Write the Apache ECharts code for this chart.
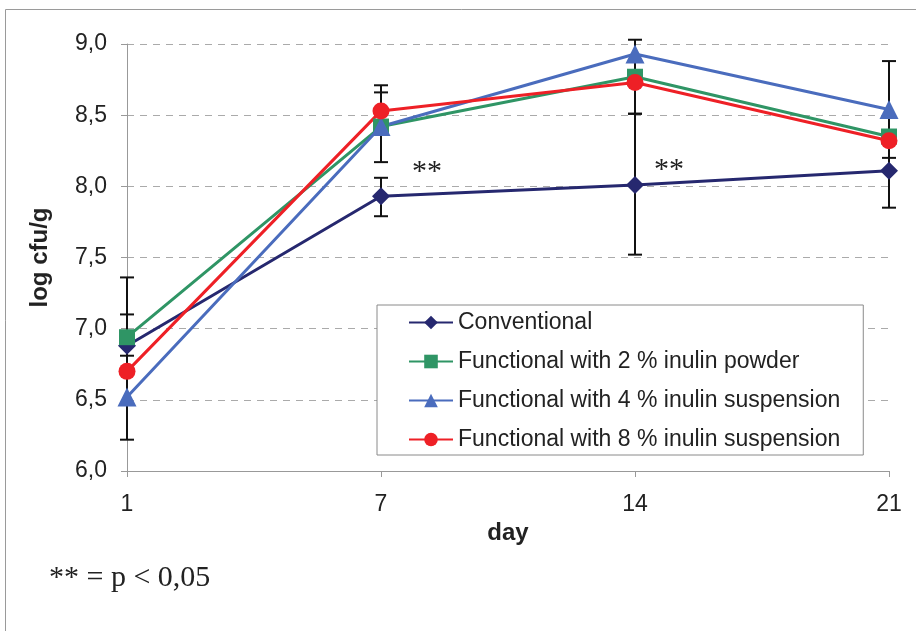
<!DOCTYPE html>
<html>
<head>
<meta charset="utf-8">
<script src="https://cdn.jsdelivr.net/npm/echarts@6/dist/echarts.min.js"></script>
<style>
  html, body { margin: 0; padding: 0; background: #fff; }
  #main { width: 916px; height: 631px; }
</style>
</head>
<body>
<div id="main"></div>
<script>
// data
var days = ['1', '7', '14', '21'];

var conventional = [6.88, 7.93, 8.01, 8.11];
var inulin2 = [6.94, 8.42, 8.77, 8.35];
var inulin4 = [6.52, 8.42, 8.93, 8.54];
var inulin8 = [6.70, 8.53, 8.73, 8.32];

// error bars [day index, low, high]
var errBars = [
    [0, 6.22, 7.36], [0, 6.81, 7.10],
    [1, 7.79, 8.06], [1, 8.17, 8.66], [1, 8.53, 8.71],
    [2, 7.52, 8.51], [2, 8.51, 9.03],
    [3, 7.85, 8.48], [3, 8.20, 8.88]
];

var chart = echarts.init(document.getElementById('main'));

function lineSeries(name, data, color, symbol, size) {
    return {
        name: name,
        type: 'line',
        data: data,
        symbol: symbol,
        symbolSize: size,
        z: 3,
        lineStyle: { color: color, width: 3 },
        itemStyle: { color: color },
        emphasis: { disabled: true }
    };
}

var option = {
    animation: false,
    backgroundColor: '#fff',
    grid: { left: 127, top: 44, right: 27, bottom: 160 },
    legend: {
        orient: 'vertical',
        left: 377,
        top: 305,
        itemWidth: 44,
        itemHeight: 17,
        itemGap: 16,
        padding: [6, 23, 4, 31],
        borderColor: '#8a8a8a',
        borderWidth: 1,
        borderRadius: 0,
        backgroundColor: '#fff',
        textStyle: { fontFamily: 'Liberation Sans', fontSize: 23, color: '#222' },
        data: ['Conventional', 'Functional with 2 % inulin powder',
               'Functional with 4 % inulin suspension', 'Functional with 8 % inulin suspension']
    },
    xAxis: {
        type: 'category',
        data: days,
        boundaryGap: false,
        name: 'day',
        nameLocation: 'middle',
        nameGap: 46,
        nameTextStyle: { fontFamily: 'Liberation Sans', fontSize: 24, fontWeight: 'bold', color: '#222' },
        axisLine: { lineStyle: { color: '#999', width: 1 } },
        axisTick: { show: true, length: 6, lineStyle: { color: '#999' } },
        axisLabel: { fontFamily: 'Liberation Sans', fontSize: 23, color: '#222', margin: 22 },
        splitLine: { show: false }
    },
    yAxis: {
        type: 'value',
        min: 6,
        max: 9,
        interval: 0.5,
        name: 'log cfu/g',
        nameLocation: 'middle',
        nameGap: 75,
        nameTextStyle: { fontFamily: 'Liberation Sans', fontSize: 24, fontWeight: 'bold', color: '#222' },
        axisLine: { show: true, lineStyle: { color: '#999', width: 1 } },
        axisTick: { show: true, length: 6, lineStyle: { color: '#999' } },
        axisLabel: {
            fontFamily: 'Liberation Sans', fontSize: 23, color: '#222', margin: 20,
            formatter: function (v) { return v.toFixed(1).replace('.', ','); }
        },
        splitLine: { show: true, lineStyle: { color: '#aaa', type: [7, 6], width: 1 } }
    },
    graphic: [
        { type: 'rect', shape: { x: 5.5, y: 9.5, width: 930, height: 640 },
          style: { fill: 'none', stroke: '#9a9a9a', lineWidth: 1 }, silent: true, z: -10 },
        { type: 'text', left: 412, top: 157, style: { text: '**', font: '30px "Liberation Serif"', fill: '#222' } },
        { type: 'text', left: 654, top: 155, style: { text: '**', font: '30px "Liberation Serif"', fill: '#222' } },
        { type: 'text', left: 49, top: 563, style: { text: '** = p < 0,05', font: '30px "Liberation Serif"', fill: '#222' } }
    ],
    series: [
        {
            type: 'custom',
            z: 1,
            silent: true,
            data: errBars,
            renderItem: function (params, api) {
                var lo = api.coord([api.value(0), api.value(1)]);
                var hi = api.coord([api.value(0), api.value(2)]);
                var cap = 7;
                var st = { stroke: '#111', lineWidth: 2 };
                return {
                    type: 'group',
                    children: [
                        { type: 'line', shape: { x1: lo[0], y1: lo[1], x2: hi[0], y2: hi[1] }, style: st },
                        { type: 'line', shape: { x1: lo[0] - cap, y1: lo[1], x2: lo[0] + cap, y2: lo[1] }, style: st },
                        { type: 'line', shape: { x1: hi[0] - cap, y1: hi[1], x2: hi[0] + cap, y2: hi[1] }, style: st }
                    ]
                };
            }
        },
        lineSeries('Conventional', conventional, '#26286f', 'diamond', 18),
        lineSeries('Functional with 2 % inulin powder', inulin2, '#2f9565', 'rect', 16),
        lineSeries('Functional with 4 % inulin suspension', inulin4, '#4a6cbd', 'triangle', 19),
        lineSeries('Functional with 8 % inulin suspension', inulin8, '#ee2026', 'circle', 17)
    ]
};

chart.setOption(option);
</script>
</body>
</html>
